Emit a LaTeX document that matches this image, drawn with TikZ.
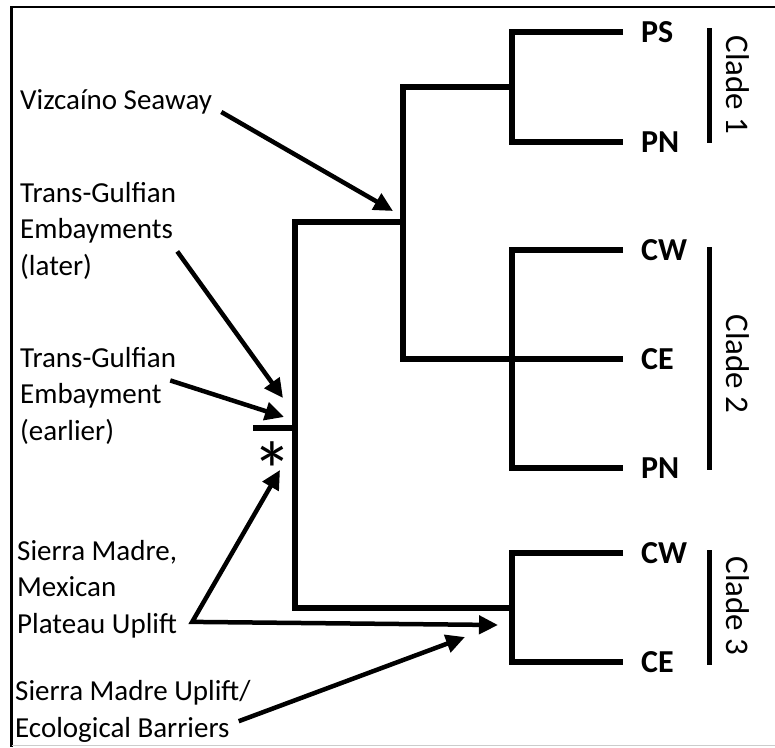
\documentclass[tikz,border=0pt]{standalone}
\usepackage{fontspec}
\setmainfont{Carlito}
\usetikzlibrary{arrows.meta,positioning}

\begin{document}
\begin{tikzpicture}[x=1pt, y=-1pt, inner sep=0pt, node distance=18pt]
    \tikzstyle{branch}=[line width=6.5pt, line join=miter]
    \tikzstyle{bar}=[line width=5pt]
    \tikzstyle{cue}=[line width=4.5pt, -{Triangle[length=19pt,width=18pt]}]
    \tikzstyle{twocue}=[line width=4.5pt, line join=miter, {Triangle[length=19pt,width=18pt]}-{Triangle[length=19pt,width=18pt]}]
    \tikzstyle{tip}=[font=\fontsize{32}{36}\selectfont\bfseries]
    \tikzstyle{event}=[anchor=base west, align=left, font=\fontsize{29}{36.5}\selectfont]
    \tikzstyle{clade}=[rotate=-90, font=\fontsize{33}{36}\selectfont]

    \useasboundingbox (0,0) rectangle (775,747);
    \draw[line width=2.5pt] (775,7) -| (11.5,747);
    \draw[line width=1.5pt, black!20] (11.5,745.5) -- (775,745.5);

    % branch points
    \coordinate (n1) at (512,87);
    \coordinate (n2) at (512,359);
    \coordinate (n3) at (512,608);
    \coordinate (nA) at (403,222);
    \coordinate (nR) at (295,428);
    \coordinate (stem) at (253,428);

    % branch ends
    \coordinate (e1) at (623,32);
    \coordinate (e2) at (623,142);
    \coordinate (e3) at (623,250);
    \coordinate (e4) at (623,359);
    \coordinate (e5) at (623,468);
    \coordinate (e6) at (623,553);
    \coordinate (e7) at (623,662);

    \node[tip, right=of e1] (ps1) {PS};
    \node[tip, right=of e2] (pn1) {PN};
    \node[tip, right=of e3] (cw2) {CW};
    \node[tip, right=of e4] (ce2) {CE};
    \node[tip, right=of e5] (pn2) {PN};
    \node[tip, right=of e6] (cw3) {CW};
    \node[tip, right=of e7] (ce3) {CE};

    \draw[branch] (e1) -| (n1) |- (e2);
    \draw[branch] (e3) -| (n2) |- (e5);
    \draw[branch] (n1) -| (nA) |- (e4);
    \draw[branch] (nA) -| (nR) |- (n3);
    \draw[branch] (e6) -| (n3) |- (e7);
    \draw[branch] (stem) -- (nR);

    % clade brackets
    \draw[bar] (709,28) -- (709,143);
    \draw[bar] (709,247) -- (709,470);
    \draw[bar] (709,550) -- (709,665);
    \node[clade] (clade1) at (738,85) {Clade 1};
    \node[clade] (clade2) at (738,364) {Clade 2};
    \node[clade] (clade3) at (738,606) {Clade 3};

    \node[anchor=base, font=\fontsize{80}{80}\selectfont] (star) at (272,498) {*};

    % events (base = last line)
    \node[event] (vizc) at (20,109) {Vizcaíno Seaway};
    \node[event] (tgl) at (20,275) {Trans-Gulfian\\Embayments\\(later)};
    \node[event] (tge) at (20,440) {Trans-Gulfian\\Embayment\\(earlier)};
    \node[event] (smp) at (17,633) {Sierra Madre,\\Mexican\\Plateau Uplift};
    \node[event] (smu) at (15,737) {Sierra Madre Uplift/\\Ecological Barriers};

    \coordinate (vizc-tip) at (393,211);
    \coordinate (tgl-tip) at (283,398);
    \coordinate (tge-tip) at (284,417);
    \coordinate (smp-up) at (280,470);
    \coordinate (smp-right) at (498,625);
    \coordinate (smu-tip) at (465,637);

    \draw[cue] ([shift={(9,3)}]vizc.base east) -- (vizc-tip);
    \draw[cue] ([shift={(1,21)}]tgl.east) -- (tgl-tip);
    \draw[cue] ([shift={(-6,-15)}]tge.east) -- (tge-tip);
    \draw[twocue] (smp-up) -- ([shift={(15,-16)}]smp.south east) -- (smp-right);
    \draw[cue] ([shift={(-12,-21)}]smu.south east) -- (smu-tip);
\end{tikzpicture}
\end{document}
